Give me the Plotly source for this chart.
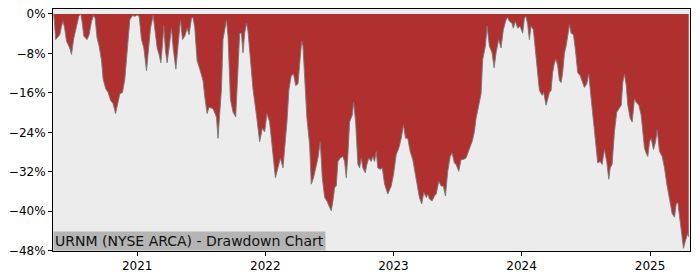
import datetime as dt
import plotly.graph_objects as go

# decimal-year timestamps and drawdown (%)
t_years = [
    2020.345, 2020.351, 2020.366, 2020.384, 2020.398, 2020.411, 2020.423, 2020.436, 2020.450,
    2020.475, 2020.489, 2020.507, 2020.528, 2020.546, 2020.561, 2020.571, 2020.585, 2020.600,
    2020.610, 2020.626, 2020.645, 2020.660, 2020.673, 2020.688, 2020.704, 2020.723, 2020.735,
    2020.756, 2020.774, 2020.793, 2020.813, 2020.832, 2020.844, 2020.865, 2020.886, 2020.904,
    2020.917, 2020.930, 2020.943, 2020.964, 2020.982, 2021.000, 2021.016, 2021.034, 2021.052,
    2021.073, 2021.086, 2021.104, 2021.125, 2021.138, 2021.156, 2021.171, 2021.185, 2021.198,
    2021.208, 2021.221, 2021.234, 2021.249, 2021.268, 2021.281, 2021.302, 2021.320, 2021.338,
    2021.354, 2021.372, 2021.390, 2021.405, 2021.424, 2021.436, 2021.450, 2021.468, 2021.489,
    2021.514, 2021.528, 2021.546, 2021.561, 2021.592, 2021.619, 2021.631, 2021.658, 2021.670,
    2021.697, 2021.709, 2021.728, 2021.748, 2021.769, 2021.787, 2021.800, 2021.814, 2021.826,
    2021.839, 2021.853, 2021.865, 2021.892, 2021.904, 2021.931, 2021.956, 2021.977, 2021.995,
    2022.013, 2022.034, 2022.060, 2022.079, 2022.099, 2022.118, 2022.138, 2022.151, 2022.169,
    2022.185, 2022.203, 2022.221, 2022.237, 2022.255, 2022.268, 2022.284, 2022.294, 2022.307,
    2022.325, 2022.346, 2022.359, 2022.377, 2022.398, 2022.411, 2022.429, 2022.445, 2022.463,
    2022.481, 2022.502, 2022.515, 2022.528, 2022.541, 2022.554, 2022.567, 2022.585, 2022.606,
    2022.619, 2022.632, 2022.645, 2022.658, 2022.679, 2022.689, 2022.705, 2022.723, 2022.736,
    2022.749, 2022.761, 2022.780, 2022.793, 2022.808, 2022.827, 2022.839, 2022.853, 2022.866,
    2022.878, 2022.897, 2022.913, 2022.931, 2022.956, 2022.983, 2023.001, 2023.022, 2023.042,
    2023.061, 2023.079, 2023.094, 2023.112, 2023.131, 2023.151, 2023.172, 2023.190, 2023.203,
    2023.221, 2023.237, 2023.256, 2023.268, 2023.281, 2023.302, 2023.320, 2023.334, 2023.354,
    2023.373, 2023.390, 2023.406, 2023.424, 2023.443, 2023.458, 2023.476, 2023.489, 2023.510,
    2023.528, 2023.546, 2023.567, 2023.583, 2023.599, 2023.614, 2023.632, 2023.645, 2023.666,
    2023.684, 2023.697, 2023.718, 2023.731, 2023.749, 2023.770, 2023.786, 2023.801, 2023.822,
    2023.840, 2023.858, 2023.879, 2023.892, 2023.905, 2023.926, 2023.936, 2023.952, 2023.970,
    2023.988, 2024.009, 2024.022, 2024.035, 2024.048, 2024.061, 2024.074, 2024.092, 2024.108,
    2024.126, 2024.139, 2024.160, 2024.172, 2024.191, 2024.203, 2024.217, 2024.230, 2024.242,
    2024.256, 2024.269, 2024.281, 2024.295, 2024.308, 2024.320, 2024.334, 2024.347, 2024.359,
    2024.373, 2024.386, 2024.404, 2024.419, 2024.437, 2024.456, 2024.472, 2024.489, 2024.507,
    2024.523, 2024.542, 2024.560, 2024.575, 2024.593, 2024.612, 2024.627, 2024.645, 2024.663,
    2024.679, 2024.690, 2024.705, 2024.723, 2024.741, 2024.757, 2024.776, 2024.788, 2024.801,
    2024.815, 2024.827, 2024.846, 2024.861, 2024.879, 2024.892, 2024.913, 2024.931, 2024.944,
    2024.957, 2024.970, 2024.983, 2024.996, 2025.009, 2025.027, 2025.043, 2025.056, 2025.074,
    2025.095, 2025.113, 2025.131, 2025.152, 2025.173, 2025.191, 2025.204, 2025.217, 2025.230,
    2025.243, 2025.261, 2025.277, 2025.295, 2025.302,
]

drawdown_pct = [
    0.0, 0.0, -5.2, -4.5, -4.2, -2.5, -1.5, -2.9, -5.5,
    -6.9, -8.2, -4.9, -2.5, -0.5, 0.0, -1.5, -4.5, -4.9,
    -5.2, -4.2, -1.5, -0.3, -0.9, -4.9, -6.5, -9.5, -13.2,
    -15.2, -15.9, -17.5, -18.2, -20.2, -18.9, -16.2, -15.9, -13.2,
    -9.2, -4.2, -1.2, -0.3, -0.5, -0.2, -0.5, -5.2, -6.9,
    -11.5, -7.2, -2.9, -0.3, -3.5, -6.9, -8.2, -9.9, -6.2,
    -2.5, -7.5, -9.9, -6.9, -2.9, -6.9, -11.2, -6.2, -1.2,
    -5.2, -4.5, -2.9, -4.2, -0.9, -0.7, -2.9, -9.5, -11.2,
    -13.5, -16.9, -20.2, -18.9, -19.2, -20.9, -25.2, -15.2, -5.2,
    -1.2, -4.5, -17.3, -19.9, -20.9, -10.5, -3.9, -3.9, -7.9,
    -3.9, -1.9, -3.5, -11.9, -15.2, -20.5, -25.9, -23.2, -23.9,
    -20.2, -21.9, -28.5, -33.2, -31.2, -29.2, -31.2, -27.3, -21.9,
    -15.2, -12.5, -12.2, -14.5, -14.2, -9.9, -5.5, -6.5, -13.2,
    -21.2, -26.5, -34.5, -33.2, -30.5, -29.2, -25.9, -33.2, -37.2,
    -37.9, -39.2, -39.9, -37.9, -35.2, -34.9, -29.9, -29.2, -28.9,
    -29.9, -33.2, -28.5, -21.9, -20.5, -17.9, -21.9, -30.5, -31.2,
    -29.2, -31.2, -32.2, -30.5, -29.2, -29.9, -28.9, -29.9, -27.9,
    -31.2, -31.5, -31.2, -34.5, -36.5, -34.9, -32.5, -28.5, -27.2,
    -25.2, -22.5, -25.2, -25.2, -27.9, -29.5, -32.5, -34.9, -37.2,
    -38.5, -36.2, -37.2, -36.5, -37.5, -37.9, -36.9, -36.5, -33.9,
    -34.9, -34.9, -36.9, -31.9, -28.9, -28.2, -30.2, -30.5, -31.9,
    -29.5, -29.5, -29.2, -27.9, -26.9, -25.9, -23.9, -21.2, -18.5,
    -16.2, -9.2, -6.5, -2.5, -6.5, -7.9, -10.9, -7.9, -5.2,
    -6.9, -3.2, -1.2, -0.7, -1.5, -1.9, -2.9, -1.5, -2.9,
    -2.5, -3.9, -0.9, -0.5, -2.2, -5.2, -2.5, -3.2, -7.2,
    -11.9, -15.5, -16.5, -15.9, -18.5, -17.2, -15.9, -15.5, -11.9,
    -9.9, -9.2, -10.5, -13.5, -13.9, -11.9, -7.9, -6.5, -4.5,
    -2.2, -3.9, -4.2, -7.2, -11.9, -12.5, -13.9, -14.9, -14.2,
    -12.2, -17.2, -21.9, -25.2, -30.2, -29.9, -30.5, -27.5, -29.9,
    -33.5, -31.2, -30.5, -23.9, -19.9, -19.2, -18.5, -13.9, -12.2,
    -14.5, -18.5, -21.2, -21.9, -17.2, -17.9, -18.5, -20.5, -23.9,
    -27.2, -28.2, -28.9, -25.9, -25.2, -27.5, -25.9, -23.5, -27.9,
    -28.9, -31.2, -34.5, -37.2, -40.5, -41.2, -38.5, -38.2, -41.2,
    -43.9, -47.5, -45.9, -44.5, -45.2,
]

y_tick_vals = [0, -8, -16, -24, -32, -40, -48]
x_tick_years = [2021, 2022, 2023, 2024, 2025]
title_text = "URNM (NYSE ARCA) - Drawdown Chart"


def year_to_date(t):
    y = int(t)
    start = dt.datetime(y, 1, 1)
    end = dt.datetime(y + 1, 1, 1)
    return start + (end - start) * (t - y)


dates = [year_to_date(t) for t in t_years]
y_tick_text = [("\u2212" if v < 0 else "") + f"{abs(v)}%" for v in y_tick_vals]
x_tick_vals = [dt.datetime(y, 1, 1) for y in x_tick_years]

fig = go.Figure()
fig.add_trace(go.Scatter(
    x=dates, y=drawdown_pct, mode="lines", fill="tozeroy",
    fillcolor="#b03030", line=dict(color="rgba(120,120,120,0.9)", width=1),
    hoverinfo="skip", showlegend=False,
))

fig.update_layout(
    width=700, height=280,
    margin=dict(l=53, r=10, t=7, b=28),
    paper_bgcolor="white", plot_bgcolor="#ececec",
    font=dict(family="DejaVu Sans", size=12, color="black"),
    showlegend=False,
    annotations=[dict(
        text=title_text, xref="paper", yref="paper", x=0, y=0,
        xanchor="left", yanchor="bottom", showarrow=False,
        bgcolor="#b4b4b4", borderpad=1,
        font=dict(family="DejaVu Sans", size=14, color="#111111"),
    )],
)
fig.update_xaxes(
    range=[year_to_date(2020.345), year_to_date(2025.312)],
    tickvals=x_tick_vals, ticktext=[str(y) for y in x_tick_years],
    showgrid=False, zeroline=False,
    showline=True, mirror=True, linecolor="black", linewidth=1,
    ticks="outside", ticklen=4, tickcolor="black",
)
fig.update_yaxes(
    range=[-48.05, 1.0],
    tickvals=y_tick_vals, ticktext=y_tick_text,
    showgrid=False, zeroline=False,
    showline=True, mirror=True, linecolor="black", linewidth=1,
    ticks="outside", ticklen=4, tickcolor="black",
)

fig.write_html("out.html")
